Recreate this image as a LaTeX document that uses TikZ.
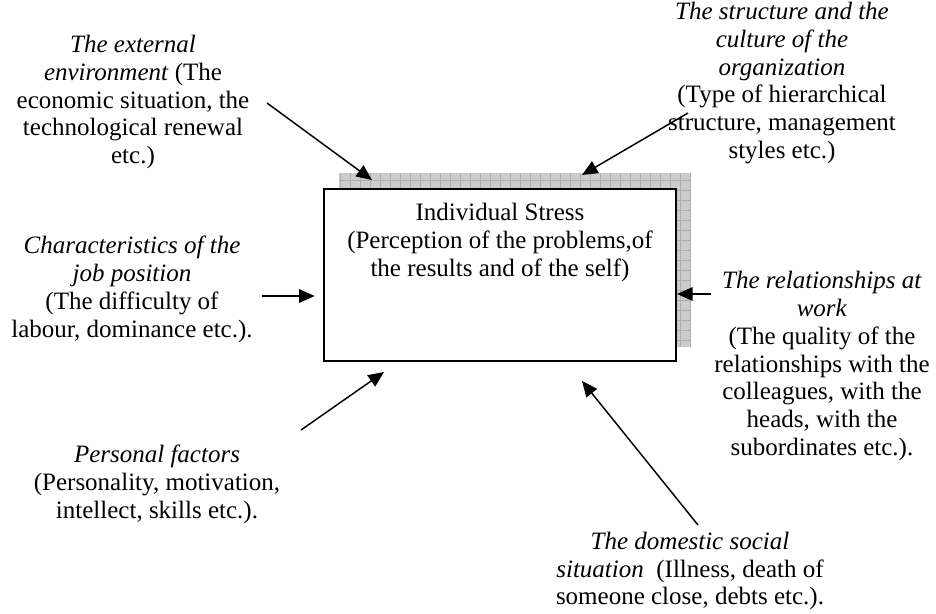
\documentclass[tikz,border=0pt]{standalone}
\usepackage{fontspec}
\setmainfont{Liberation Serif}
\usetikzlibrary{arrows.meta,positioning}
\tikzset{
  factor/.style={align=center, inner sep=0pt, font=\fontsize{12}{13.4}\selectfont},
  stressbox/.style={draw, line width=0.9pt, fill=white, minimum width=169pt, minimum height=82.6pt, inner sep=0pt},
  shade/.style={fill=black!20},
  push/.style={-{Triangle[length=7.5pt,width=6.5pt]}, line width=0.7pt},
}
\begin{document}
\begin{tikzpicture}[x=0.48pt,y=-0.48pt]
    \useasboundingbox (0,0) rectangle (936,613);
    % shadow behind the box
    \fill[shade] (339,173) rectangle (691,347);
    \draw[black!32, line width=0.2pt, step=4.8pt] (339,173) grid (691,347);
    \node[stressbox] (box) at (500,275) {};
    \node[factor, anchor=north] (stress) at (500,203)
      {Individual Stress\\(Perception of the problems,of\\the results and of the self)};
    \node[factor] (ext) at (133,102)
      {\textit{The external}\\\textit{environment} (The\\economic situation, the\\technological renewal\\etc.)};
    \node[factor] (org) at (782,83)
      {\textit{The structure and the}\\\textit{culture of the}\\\textit{organization}\\(Type of hierarchical\\structure, management\\styles etc.)};
    \node[factor] (job) at (132,289)
      {\textit{Characteristics of the}\\\textit{job position}\\(The difficulty of\\labour, dominance etc.).};
    \node[factor] (rel) at (822,366)
      {\textit{The relationships at}\\\textit{work}\\(The quality of the\\relationships with the\\colleagues, with the\\heads, with the\\subordinates etc.).};
    \node[factor] (pers) at (157,484)
      {\textit{Personal factors}\\(Personality, motivation,\\intellect, skills etc.).};
    \node[factor] (home) at (690,571)
      {\textit{The domestic social}\\\textit{situation}\ \ (Illness, death of\\someone close, debts etc.).};
    % arrow ends
    \coordinate (ext-s) at (267,103);  \coordinate (ext-t) at (372,180);
    \coordinate (org-s) at (688,113);  \coordinate (org-t) at (582,175);
    \coordinate (job-s) at (262,296);  \coordinate (job-t) at (box.west |- job-s);
    \coordinate (rel-s) at (711,294);  \coordinate (rel-t) at (box.east |- rel-s);
    \coordinate (pers-s) at (301,430); \coordinate (pers-t) at (384,372);
    \coordinate (home-s) at (698,525); \coordinate (home-t) at (582,381);
    \draw[push] (ext-s) -- (ext-t);
    \draw[push] (org-s) -- (org-t);
    \draw[push] (job-s) -- ([xshift=-4pt]job-t);
    \draw[push] (rel-s) -- (rel-t);
    \draw[push] (pers-s) -- (pers-t);
    \draw[push] (home-s) -- (home-t);
\end{tikzpicture}
\end{document}
